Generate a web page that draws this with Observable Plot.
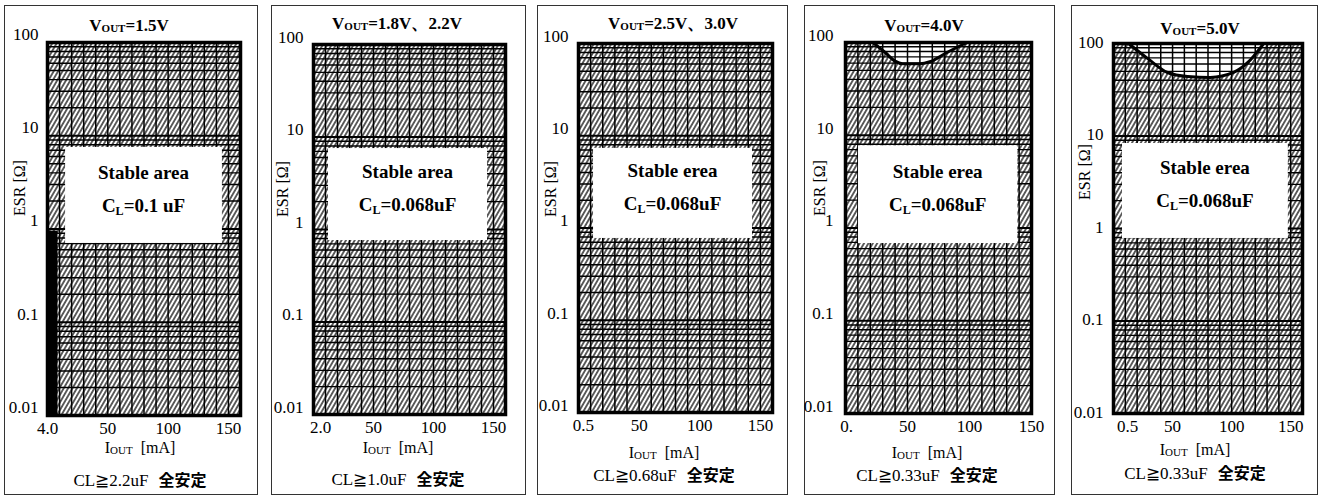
<!DOCTYPE html>
<html><head><meta charset="utf-8">
<script src="https://cdn.jsdelivr.net/npm/d3@7"></script>
<script src="https://cdn.jsdelivr.net/npm/@observablehq/plot@0.6"></script>
<style>
body{margin:0;background:#fff;}
#root{position:relative;width:1327px;height:498px;overflow:hidden;font-family:"Liberation Serif","Times New Roman",serif;color:#000;}
.panel{position:absolute;top:5px;height:490px;border:1px solid #333;box-sizing:border-box;}
.panel svg{position:absolute;left:0;top:0;overflow:visible;}
.lbl{position:absolute;white-space:nowrap;transform:translate(-50%,-50%);line-height:1;}
.title{font-weight:bold;font-size:17px;}
.tsub{font-size:11px;position:relative;top:1px;}
.box{font-weight:bold;font-size:19px;}
.bsub{font-size:12px;position:relative;top:3px;}
.xl{font-size:16px;}
.xsub{font-size:11px;position:relative;top:1px;}
.cap{font-size:17px;}
.cjk{font-family:"Noto Sans CJK JP",sans-serif;font-weight:bold;font-size:16px;margin-left:10px;}
.esr{font-size:16px;transform:translate(-50%,-50%) rotate(-90deg);}
</style></head>
<body><div id="root"></div>
<script>
// ---- data ----
const voutLabels = ["1.5V", "1.8V、2.2V", "2.5V、3.0V", "4.0V", "5.0V"];
const stableWords = ["Stable area", "Stable area", "Stable erea", "Stable erea", "Stable erea"];
const clValues = ["=0.1 uF", "=0.068uF", "=0.068uF", "=0.068uF", "=0.068uF"];
const captionCL = ["2.2uF", "1.0uF", "0.68uF", "0.33uF", "0.33uF"];
const xMax = [160, 160, 160, 150, 160];
const xTickValues = [[0, 50, 100, 150], [6, 50, 100, 150], [4, 50, 100, 150], [1, 50, 100, 150], [12, 50, 100, 150]];
const xTickLabels = [["4.0", "50", "100", "150"], ["2.0", "50", "100", "150"], ["0.5", "50", "100", "150"], ["0.", "50", "100", "150"], ["0.5", "50", "100", "150"]];
const yTickValues = [100, 10, 1, 0.1, 0.01];
const yTickLabels = ["100", "10", "1", "0.1", "0.01"];
const stableBoxes = [
  {x1: 15, x2: 145, y1: 0.70, y2: 7.5},
  {x1: 12.5, x2: 145, y1: 0.76, y2: 7.5},
  {x1: 12.4, x2: 143.5, y1: 0.77, y2: 7.3},
  {x1: 10.5, x2: 139, y1: 0.68, y2: 7.7},
  {x1: 7.6, x2: 148, y1: 0.78, y2: 8.3}
];
const lowBars = [
  [{x1: 0, x2: 8.7, y1: 0.01, y2: 0.95}],
  [{x1: 0, x2: 1.6, y1: 0.01, y2: 0.38}],
  [], [], []
];
const limitCurve4 = [{x: 22, y: 100}, {x: 32, y: 78}, {x: 40, y: 63}, {x: 46, y: 59}, {x: 60, y: 59}, {x: 68, y: 62}, {x: 81, y: 77}, {x: 98, y: 100}];
const limitCurve5 = [{x: 12.7, y: 100}, {x: 28.8, y: 69}, {x: 45.7, y: 48.6}, {x: 62.7, y: 44}, {x: 82, y: 43}, {x: 101.6, y: 48.6}, {x: 113.5, y: 62}, {x: 127, y: 100}];
const limitCurves = [null, null, null, limitCurve4, limitCurve5];

// ---- layout (page px) ----
const layout = [
  {left: 4, width: 254, fl: 47, fr: 240, ft: 42, fb: 415, tx: 129, ty: 25, lx: 140, ly: 448, cy: 480, ex: 20, ey: 188, ydy: -8, ypad: 9},
  {left: 271, width: 255, fl: 313, fr: 505, ft: 44, fb: 414, tx: 397, ty: 23, lx: 398, ly: 448, cy: 479, ex: 283, ey: 189, ydy: -7, ypad: 10},
  {left: 537, width: 251, fl: 578, fr: 772, ft: 43, fb: 412, tx: 673, ty: 23, lx: 664, ly: 453, cy: 475, ex: 551, ey: 189, ydy: -7, ypad: 10},
  {left: 804, width: 251, fl: 845, fr: 1031, ft: 42, fb: 413, tx: 924, ty: 25, lx: 927, ly: 453, cy: 475, ex: 820, ey: 188, ydy: -7, ypad: 12},
  {left: 1071, width: 247, fl: 1113, fr: 1302, ft: 43, fb: 413, tx: 1200, ty: 28, lx: 1195, ly: 450, cy: 473, ex: 1085, ey: 172, ydy: -1, ypad: 10}
];

const minorY = [];
for (let e = -2; e < 2; e++) for (let m = 2; m <= 9; m++) minorY.push(+(m * Math.pow(10, e)).toPrecision(3));
const decadeY = [0.1, 1, 10];

const root = document.getElementById("root");
function addLabel(parent, cls, html, x, y) {
  const d = document.createElement("div");
  d.className = "lbl " + cls;
  d.innerHTML = html;
  d.style.left = x + "px";
  d.style.top = y + "px";
  parent.appendChild(d);
  return d;
}

voutLabels.forEach((v, i) => {
  const L = layout[i];
  const panel = document.createElement("div");
  panel.className = "panel";
  panel.style.left = L.left + "px";
  panel.style.width = L.width + "px";
  root.appendChild(panel);
  const ox = L.left + 1, oy = 6;
  const w = L.width - 2;
  const mL = L.fl - ox, mR = ox + w - L.fr, mT = L.ft - oy, mB = 30;
  const h = L.fb - oy + mB;
  const hatchId = "hatch" + i;
  const curve = limitCurves[i];

  const marks = [Plot.frame({fill: `url(#${hatchId})`, stroke: "none"})];
  if (curve) marks.push(Plot.areaY(curve, {x: "x", y1: "y", y2: () => 100, fill: "white", curve: "monotone-x"}));
  marks.push(Plot.ruleX(d3.range(10, xMax[i], 10), {stroke: "#000", strokeWidth: 1.5}));
  marks.push(Plot.ruleY(minorY, {stroke: "#000", strokeWidth: 1.4}));
  marks.push(Plot.ruleY(decadeY, {stroke: "#000", strokeWidth: 2}));
  marks.push(Plot.rect([stableBoxes[i]], {x1: "x1", x2: "x2", y1: "y1", y2: "y2", fill: "white"}));
  if (curve) marks.push(Plot.line(curve, {x: "x", y: "y", stroke: "#000", strokeWidth: 3, curve: "monotone-x"}));
  if (lowBars[i].length) marks.push(Plot.rect(lowBars[i], {x1: "x1", x2: "x2", y1: "y1", y2: "y2", fill: "#000"}));
  marks.push(Plot.frame({stroke: "#000", strokeWidth: 3.5}));
  marks.push(Plot.axisX({ticks: xTickValues[i], tickSize: 0, tickPadding: 6, label: null, fontSize: 17,
    tickFormat: d => xTickLabels[i][xTickValues[i].indexOf(d)]}));
  marks.push(Plot.axisY({ticks: yTickValues, tickSize: 0, tickPadding: L.ypad, label: null, dy: L.ydy, fontSize: 17,
    tickFormat: d => yTickLabels[yTickValues.indexOf(d)]}));

  const plot = Plot.plot({
    width: w, height: h,
    marginLeft: mL, marginRight: mR, marginTop: mT, marginBottom: mB,
    x: {domain: [0, xMax[i]]},
    y: {type: "log", domain: [0.01, 100]},
    style: {fontFamily: '"Liberation Serif", "Times New Roman", serif', fontSize: "17px", color: "#000", background: "none", overflow: "visible"},
    marks
  });
  const defs = d3.select(plot).insert("defs", ":first-child");
  const pat = defs.append("pattern").attr("id", hatchId).attr("patternUnits", "userSpaceOnUse")
    .attr("width", 3.8).attr("height", 10).attr("patternTransform", "rotate(30)");
  pat.append("line").attr("x1", 1.9).attr("y1", -1).attr("x2", 1.9).attr("y2", 11)
    .attr("stroke", "#000").attr("stroke-width", 1.25);
  panel.appendChild(plot);

  // HTML labels (positions relative to panel inner box)
  addLabel(panel, "title", `V<span class="tsub">OUT</span>=${v}`, L.tx - ox, L.ty - oy);
  const sx = plot.scale("x"), sy = plot.scale("y");
  const b = stableBoxes[i];
  const bx = sx.apply((b.x1 + b.x2) / 2);
  const byc = (sy.apply(b.y1) + sy.apply(b.y2)) / 2;
  addLabel(panel, "box", stableWords[i], bx, byc - 23);
  addLabel(panel, "box", `C<span class="bsub">L</span>${clValues[i]}`, bx, byc + 10);
  addLabel(panel, "xl", `I<span class="xsub">OUT</span>&nbsp;&nbsp;[mA]`, L.lx - ox, L.ly - oy);
  addLabel(panel, "cap", `CL≧${captionCL[i]}<span class="cjk">全安定</span>`, L.lx - ox, L.cy - oy);
  addLabel(panel, "esr", "ESR [Ω]", L.ex - ox, L.ey - oy);
});
</script></body></html>
